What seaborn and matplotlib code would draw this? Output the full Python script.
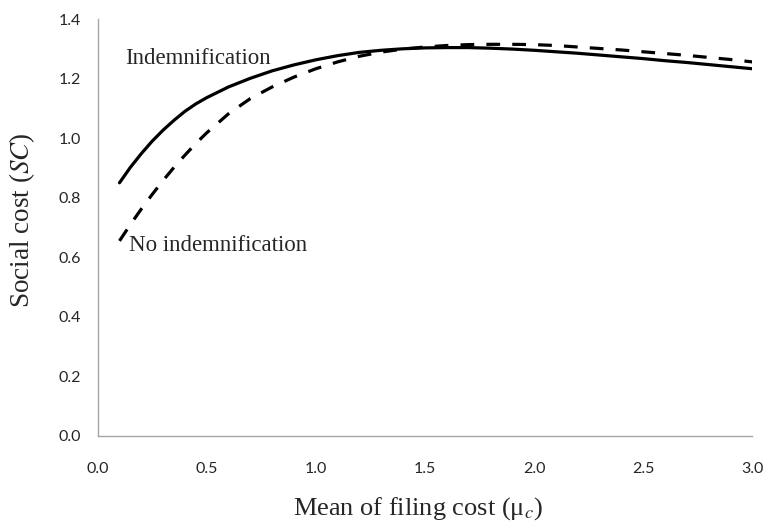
import numpy as np
import pandas as pd
import matplotlib
matplotlib.use("Agg")
import matplotlib.pyplot as plt
import seaborn as sns

# ---- data ----
mu_c = [0.10, 0.15, 0.20, 0.25, 0.30, 0.35, 0.40, 0.45, 0.50, 0.6, 0.7, 0.8, 0.9, 1.0,
        1.1, 1.2, 1.3, 1.4, 1.5, 1.6, 1.7, 1.8, 1.9, 2.0,
        2.1, 2.2, 2.3, 2.4, 2.5, 2.6, 2.7, 2.8, 2.9, 3.0]
sc_indemnification = [0.850, 0.902, 0.948, 0.990, 1.027, 1.060, 1.090, 1.115, 1.136,
                      1.172, 1.201, 1.226, 1.246, 1.263,
                      1.277, 1.288, 1.295, 1.300, 1.303, 1.304, 1.304, 1.302, 1.299, 1.295,
                      1.290, 1.285, 1.279, 1.273, 1.267, 1.260, 1.254, 1.247, 1.240, 1.233]
sc_no_indemnification = [0.655, 0.710, 0.762, 0.811, 0.858, 0.902, 0.943, 0.982, 1.018,
                         1.082, 1.133, 1.172, 1.205, 1.233,
                         1.256, 1.275, 1.289, 1.299, 1.306, 1.311, 1.314, 1.315, 1.315, 1.314,
                         1.311, 1.306, 1.301, 1.296, 1.290, 1.284, 1.278, 1.271, 1.264, 1.256]
series_names = ["Indemnification", "No indemnification"]
x_ticks = [0.0, 0.5, 1.0, 1.5, 2.0, 2.5, 3.0]
y_ticks = [0.0, 0.2, 0.4, 0.6, 0.8, 1.0, 1.2, 1.4]

df = pd.DataFrame({
    "mu": mu_c * 2,
    "sc": sc_indemnification + sc_no_indemnification,
    "series": [series_names[0]] * len(mu_c) + [series_names[1]] * len(mu_c),
})

sns.set_style("white")
plt.rcParams["mathtext.fontset"] = "stix"

fig = plt.figure(figsize=(7.66, 5.22), dpi=100)
ax = fig.add_axes([0.1275, 0.1648, 0.982 - 0.1275, 0.9636 - 0.1648])

sns.lineplot(data=df, x="mu", y="sc", hue="series", style="series",
             palette={series_names[0]: "black", series_names[1]: "black"},
             dashes={series_names[0]: "", series_names[1]: (4.3, 3.8)},
             linewidth=2.3, legend=False, ax=ax)

ax.set_xlim(0, 3.0)
ax.set_ylim(0, 1.4)
ax.set_xticks(x_ticks)
ax.set_yticks(y_ticks)
ax.set_xticklabels([f"{v:.1f}" for v in x_ticks])
ax.set_yticklabels([f"{v:.1f}" for v in y_ticks])

for s in ["top", "right"]:
    ax.spines[s].set_visible(False)
for s in ["left", "bottom"]:
    ax.spines[s].set_color("#A6A6A6")
    ax.spines[s].set_linewidth(1.0)

ax.tick_params(axis="both", direction="out", length=5, width=1.0, color="#A6A6A6",
               labelsize=11.5, labelcolor="#262626")
ax.tick_params(axis="y", pad=7)
ax.tick_params(axis="x", pad=14)
for lab in ax.get_xticklabels() + ax.get_yticklabels():
    lab.set_family("Lato")

serif = "Liberation Serif"
ax.set_xlabel("Mean of filing cost (\u03bc$_c$)", family=serif, fontsize=19)
ax.xaxis.set_label_coords(0.489, -0.1894)
ax.xaxis.label.set_va("baseline")
ax.set_ylabel("Social cost ($SC$)", family=serif, fontsize=19.5)
ax.yaxis.set_label_coords(-0.1157, 0.518)
ax.yaxis.label.set_va("center")

ax.text(0.125, 1.269, "Indemnification", family=serif, fontsize=16.5, va="center", ha="left")
ax.text(0.145, 0.641, "No indemnification", family=serif, fontsize=16.5, va="center", ha="left")

fig.savefig("out.png", dpi=100)
